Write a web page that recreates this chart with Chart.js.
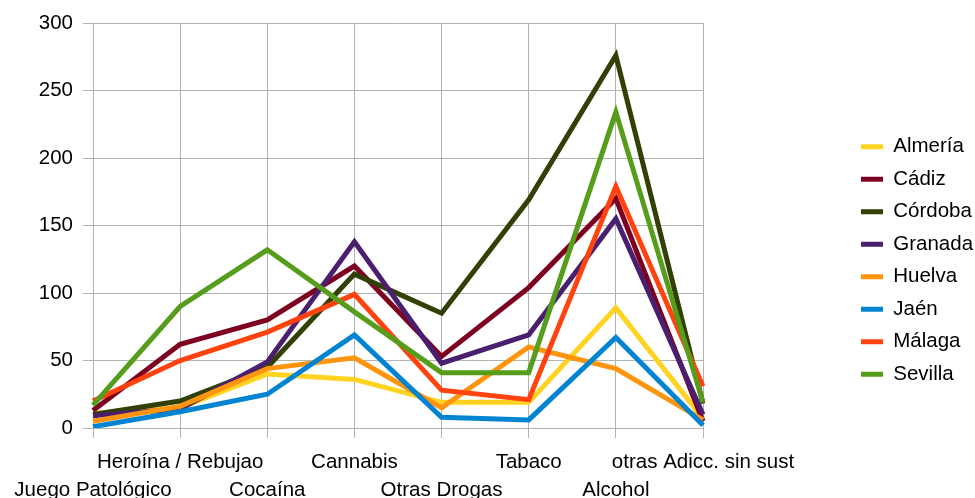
<!DOCTYPE html>
<html>
<head>
<meta charset="utf-8">
<script src="https://cdn.jsdelivr.net/npm/chart.js@4.4.1/dist/chart.umd.min.js"></script>
<style>
  html, body { margin: 0; padding: 0; background: #fff; }
  #wrap { width: 975px; height: 498px; position: relative; }
</style>
</head>
<body>
<div id="wrap"><canvas id="chart"></canvas></div>
<script>
// 데이터 ####################################################
const categories = ["Juego Patológico", "Heroína / Rebujao", "Cocaína", "Cannabis", "Otras Drogas", "Tabaco", "Alcohol", "otras Adicc. sin sust"];
const provinces = ["Almería", "Cádiz", "Córdoba", "Granada", "Huelva", "Jaén", "Málaga", "Sevilla"];

const almeria = [11, 15, 40, 36, 19, 19, 89, 7];
const cadiz = [13, 62, 80, 120, 53, 104, 170, 5];
const cordoba = [10, 20, 45, 114, 85, 169, 276, 18];
const granada = [9, 14, 49, 138, 48, 69, 155, 10];
const huelva = [5, 16, 44, 52, 15, 60, 44, 6];
const jaen = [1, 12, 25, 69, 8, 6, 67, 2];
const malaga = [20, 50, 71, 99, 28, 21, 179, 31];
const sevilla = [17, 90, 132, 86, 41, 41, 234, 19];

const yTicks = [0, 50, 100, 150, 200, 250, 300];

const seriesValues = [almeria, cadiz, cordoba, granada, huelva, jaen, malaga, sevilla];
const colors = ["#ffd320", "#7e0021", "#314004", "#4b1f6f", "#ff950e", "#0084d1", "#ff420e", "#579d1c"];

function drogas_chart() {
  const ctx = document.getElementById("chart").getContext("2d");
  const font = { family: "'Liberation Sans', Arial, sans-serif", size: 20.5 };
  const gridColor = "#b3b3b3";

  // 범례를 오른쪽으로 이동
  const moveLegend = {
    id: "moveLegend",
    afterLayout(chart) {
      const lg = chart.legend;
      const w = lg.right - lg.left;
      lg.left = 849;
      lg.right = lg.left + w;
    },
  };

  const datasets = seriesValues.map((vals, i) => ({
    label: provinces[i],
    data: vals,
    borderColor: colors[i],
    backgroundColor: colors[i],
    borderWidth: 5,
    pointRadius: 0,
    tension: 0,
    order: seriesValues.length - 1 - i, // 뒤 시리즈가 위에 그려지도록
  }));

  const options = {
    responsive: true,
    maintainAspectRatio: false,
    animation: false,
    layout: { padding: { top: 23, left: 0, right: 0, bottom: 0 } },
    scales: {
      x: {
        type: "category",
        offset: false,
        grid: { color: gridColor, tickLength: 10 },
        border: { color: gridColor, width: 1 },
        ticks: {
          autoSkip: false,
          maxRotation: 0,
          minRotation: 0,
          padding: 10,
          color: "#000",
          font: { ...font, lineHeight: 1.37 },
          callback: function (value, index) {
            // 짝수는 아랫줄, 홀수는 윗줄
            return index % 2 === 0 ? ["", categories[index]] : [categories[index]];
          },
        },
        afterFit(scale) {
          scale.height = 70;
          scale.paddingLeft = 93;
          scale.paddingRight = 272;
        },
      },
      y: {
        min: 0,
        max: 300,
        grid: { color: gridColor, tickLength: 10 },
        border: { color: gridColor, width: 1 },
        afterBuildTicks(scale) {
          scale.ticks = yTicks.map((v) => ({ value: v }));
        },
        ticks: {
          padding: 10,
          color: "#000",
          font: font,
        },
      },
    },
    plugins: {
      legend: {
        position: "right",
        labels: {
          color: "#000",
          font: font,
          boxWidth: 22,
          boxHeight: 5,
          padding: 12,
          sort: (a, b) => a.datasetIndex - b.datasetIndex,
          generateLabels(chart) {
            const items = Chart.defaults.plugins.legend.labels.generateLabels(chart);
            items.forEach((it) => {
              it.lineWidth = 0;
              it.fillStyle = it.strokeStyle;
            });
            return items;
          },
        },
      },
      tooltip: { enabled: false },
    },
  };

  new Chart(ctx, {
    type: "line",
    data: { labels: categories, datasets: datasets },
    options: options,
    plugins: [moveLegend],
  });
}
drogas_chart();
</script>
</body>
</html>
